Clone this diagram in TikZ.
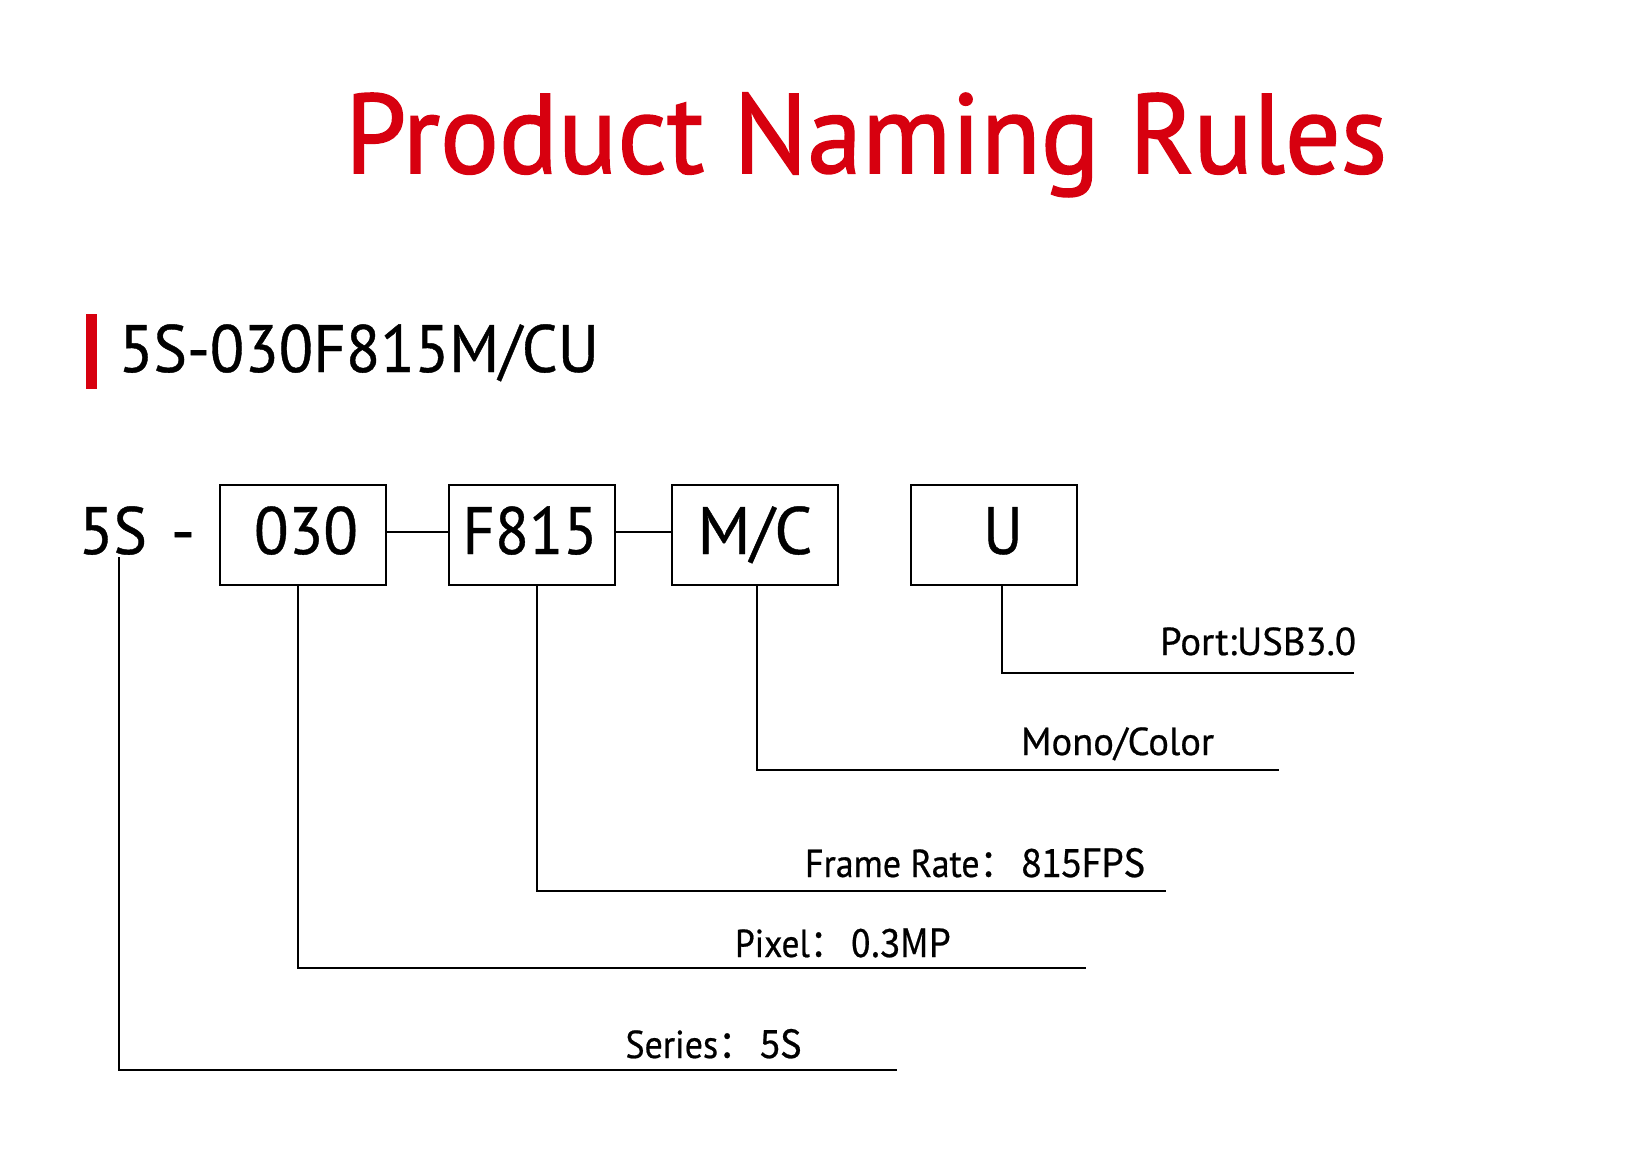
\documentclass[tikz,border=0pt]{standalone}
\usepackage{fontspec}
\usepackage{graphicx}
\setmainfont{PT Sans}[FakeBold=0.6]
\newfontfamily\titlefont{PT Sans}[FakeBold=1.4]
\newfontfamily\cjk{Noto Sans CJK SC}[FakeBold=0.6]
\definecolor{brandred}{RGB}{215,0,15}
\newcommand\wfit[2]{\resizebox{#1}{\height}{#2}}
\begin{document}
\begin{tikzpicture}[x=1pt,y=-1pt,
  txt/.style={inner sep=0pt, outer sep=0pt, anchor=base west},
  ctxt/.style={inner sep=0pt, outer sep=0pt, anchor=base},
  codebox/.style={draw, line width=2pt, minimum width=166pt, minimum height=100pt, inner sep=0pt},
  leader/.style={line width=2pt},
  lbl/.style={txt, font=\fontsize{39}{44}\selectfont},
  big/.style={font=\fontsize{67}{72}\selectfont}]
\useasboundingbox (0,0) rectangle (1632,1149);
\fill[white] (0,0) rectangle (1632,1149);
% title
\node[txt, text=brandred, font=\titlefont\fontsize{113}{120}\selectfont] (title) at (345,173) {\wfit{1042pt}{Product Naming Rules}};
% heading bar and model code
\node[fill=brandred, inner sep=0pt, minimum width=11pt, minimum height=75pt] (bar) at (91.5,351.5) {};
\node[txt, big] (code) at (119,372) {\wfit{480pt}{5S-030F815M/CU}};
% code row
\node[txt, big] (s5) at (79,554) {\wfit{68pt}{5S}};
\node[ctxt, big] (dash) at (183,554) {-};
\node[codebox] (b030) at (303,535) {};
\node[codebox] (bF) at (532,535) {};
\node[codebox] (bMC) at (755,535) {};
\node[codebox] (bU) at (994,535) {};
\node[ctxt, big] (t030) at (306,554) {\wfit{104pt}{030}};
\node[ctxt, big] (tF) at (530,554) {\wfit{135pt}{F815}};
\node[ctxt, big] (tMC) at (755,554) {\wfit{115pt}{M/C}};
\node[ctxt, big] (tU) at (1003,554) {\wfit{39pt}{U}};
\draw[leader] ([yshift=3.3pt]b030.east) -- ([yshift=3.3pt]bF.west);
\draw[leader] ([yshift=3.3pt]bF.east) -- ([yshift=3.3pt]bMC.west);
% leaders
\coordinate (eU) at (1354,673);
\coordinate (eMC) at (1279,769.5);
\coordinate (eF) at (1166,890.5);
\coordinate (e030) at (1086,967.5);
\coordinate (e5) at (897,1069.5);
\draw[leader] ([xshift=8pt]bU.south) |- (eU);
\draw[leader] ([xshift=2pt]bMC.south) |- (eMC);
\draw[leader] ([xshift=5pt]bF.south) |- (eF);
\draw[leader] ([xshift=-5pt]b030.south) |- (e030);
\draw[leader] ([xshift=40pt,yshift=-3pt]s5.base west) |- (e5);
% labels
\node[lbl] (lU) at (1160,655) {\wfit{196pt}{Port:USB3.0}};
\node[lbl] (lMC) at (1021,755) {\wfit{193pt}{Mono/Color}};
\node[lbl] (lF) at (805,877) {\wfit{340pt}{Frame Rate\cjk{：}\,815FPS}};
\node[lbl] (l030) at (735,957) {\wfit{216pt}{Pixel\cjk{：}\,0.3MP}};
\node[lbl] (l5) at (625.5,1058) {\wfit{176pt}{Series\cjk{：}\,5S}};
\end{tikzpicture}
\end{document}
